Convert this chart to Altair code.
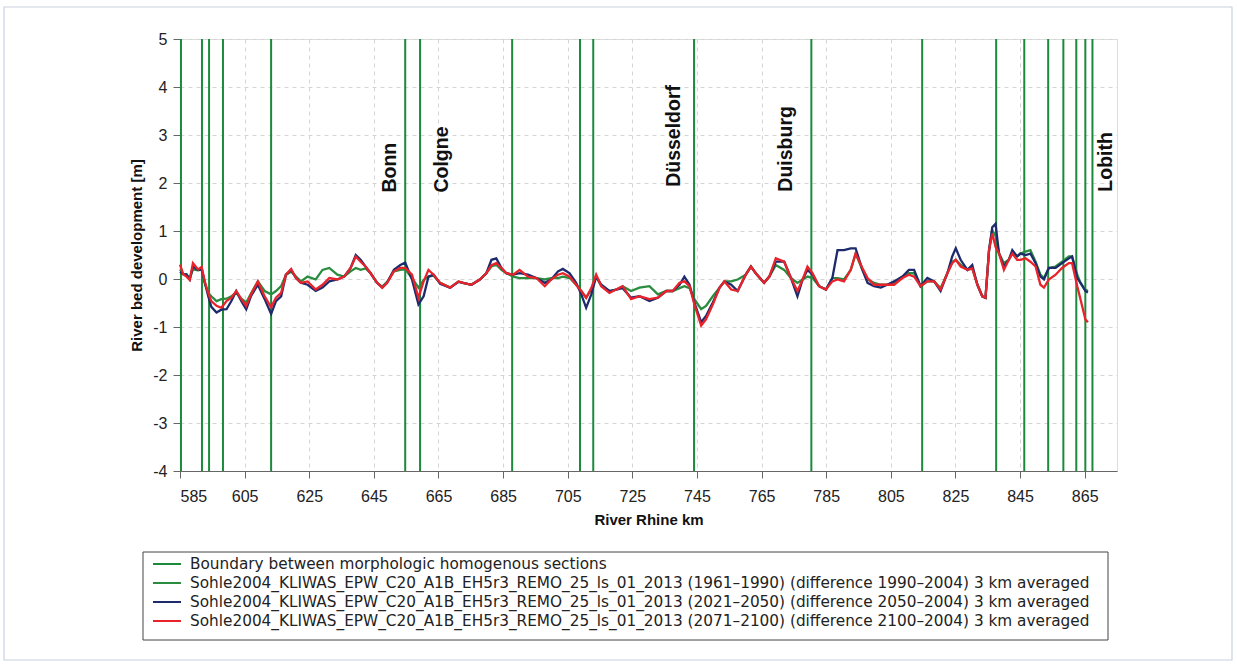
import altair as alt
import pandas as pd

# ---------------- data ----------------
km = [585.0, 586.0, 587.0, 588.0, 589.0, 590.6, 591.7, 592.7, 593.7, 594.7, 596.3, 597.8, 599.4,
      600.9, 602.4, 604.0, 605.5, 607.0, 609.1, 611.2, 613.2, 614.7, 616.3, 617.8, 619.4, 620.9,
      622.4, 624.5, 627.0, 629.1, 631.2, 633.7, 635.8, 637.8, 639.4, 640.9, 642.4, 644.0, 646.0,
      647.6, 649.1, 651.2, 653.2, 654.7, 656.8, 658.8, 660.4, 661.9, 663.5, 665.5, 668.6, 671.2,
      672.6, 675.2, 677.8, 679.8, 681.4, 682.9, 684.5, 686.0, 688.1, 690.1, 692.7, 695.3, 697.9,
      699.9, 702.0, 703.5, 705.6, 707.6, 709.2, 710.7, 712.3, 713.8, 715.4, 717.9, 720.0, 722.0,
      724.6, 727.2, 730.3, 732.9, 735.5, 737.5, 739.6, 741.1, 742.7, 744.2, 746.3, 747.8, 749.9,
      752.0, 753.5, 755.6, 757.6, 760.1, 761.7, 763.2, 765.8, 767.4, 769.4, 772.0, 774.1, 776.1,
      777.7, 779.2, 780.8, 782.8, 784.9, 786.9, 788.5, 790.5, 792.6, 794.1, 796.2, 797.8, 799.8,
      801.9, 803.9, 806.0, 808.6, 810.6, 812.2, 814.2, 816.3, 818.4, 820.4, 822.5, 824.0, 825.1,
      826.6, 828.7, 830.2, 831.8, 833.3, 834.3, 835.4, 836.4, 837.4, 838.5, 840.0, 841.5, 842.6,
      844.1, 845.1, 846.7, 848.2, 849.8, 851.3, 852.4, 853.9, 856.0, 858.0, 860.1, 861.1, 862.7,
      863.7, 865.2, 866.0]

green = [0.20, 0.10, 0.10, 0.00, 0.20, 0.18, 0.20, -0.10, -0.29, -0.36, -0.46, -0.42, -0.41,
         -0.36, -0.29, -0.41, -0.49, -0.30, -0.05, -0.25, -0.32, -0.25, -0.15, 0.09, 0.15, 0.05,
         -0.05, 0.05, -0.01, 0.19, 0.23, 0.09, 0.05, 0.16, 0.23, 0.19, 0.22, 0.12, -0.08,
         -0.16, -0.06, 0.16, 0.19, 0.20, 0.02, -0.18, -0.02, 0.05, 0.07, -0.08, -0.18, -0.05,
         -0.08, -0.12, -0.01, 0.12, 0.26, 0.30, 0.19, 0.12, 0.05, 0.02, 0.02, 0.02, -0.01,
         0.02, 0.02, 0.05, 0.02, -0.12, -0.25, -0.39, -0.22, 0.05, -0.15, -0.25, -0.22, -0.15,
         -0.25, -0.18, -0.15, -0.32, -0.25, -0.25, -0.19, -0.15, -0.19, -0.42, -0.63, -0.56, -0.36,
         -0.18, -0.05, -0.05, -0.01, 0.09, 0.26, 0.12, -0.08, 0.05, 0.29, 0.19, 0.02, -0.08,
         -0.01, 0.05, 0.02, -0.15, -0.22, 0.02, 0.02, -0.01, 0.19, 0.53, 0.19, -0.01, -0.08,
         -0.12, -0.12, -0.08, 0.05, 0.12, 0.12, -0.15, -0.05, -0.05, -0.19, 0.12, 0.36, 0.40,
         0.30, 0.19, 0.22, -0.12, -0.36, -0.39, 0.60, 1.02, 0.90, 0.53, 0.33, 0.40, 0.53,
         0.47, 0.53, 0.57, 0.60, 0.36, 0.09, 0.02, 0.23, 0.26, 0.36, 0.47, 0.47, 0.09,
         -0.08, -0.22, -0.25]

navy = [0.15, 0.10, 0.09, -0.01, 0.26, 0.19, 0.22, -0.08, -0.35, -0.58, -0.70, -0.64, -0.63,
        -0.46, -0.25, -0.46, -0.63, -0.35, -0.12, -0.42, -0.73, -0.46, -0.36, 0.09, 0.19, 0.02,
        -0.08, -0.12, -0.25, -0.18, -0.05, -0.01, 0.05, 0.23, 0.50, 0.40, 0.26, 0.12, -0.08,
        -0.18, -0.08, 0.19, 0.29, 0.34, -0.01, -0.53, -0.36, 0.05, 0.09, -0.10, -0.18, -0.06,
        -0.08, -0.12, -0.01, 0.12, 0.40, 0.43, 0.23, 0.12, 0.09, 0.12, 0.09, 0.02, -0.08,
        -0.01, 0.16, 0.21, 0.12, -0.08, -0.32, -0.60, -0.32, 0.05, -0.12, -0.25, -0.22, -0.19,
        -0.39, -0.36, -0.46, -0.39, -0.25, -0.25, -0.12, 0.05, -0.12, -0.49, -0.90, -0.77, -0.49,
        -0.18, -0.05, -0.12, -0.25, 0.09, 0.26, 0.12, -0.08, 0.05, 0.36, 0.36, 0.02, -0.36,
        -0.01, 0.19, 0.09, -0.15, -0.22, 0.02, 0.60, 0.60, 0.64, 0.64, 0.19, -0.08, -0.15,
        -0.18, -0.12, -0.05, 0.05, 0.19, 0.19, -0.15, 0.02, -0.05, -0.25, 0.12, 0.47, 0.64,
        0.40, 0.19, 0.29, -0.12, -0.36, -0.39, 0.60, 1.08, 1.15, 0.53, 0.26, 0.40, 0.60,
        0.47, 0.53, 0.50, 0.53, 0.33, 0.05, -0.01, 0.23, 0.23, 0.33, 0.43, 0.47, 0.02,
        -0.08, -0.25, -0.28]

red = [0.30, 0.10, 0.05, -0.02, 0.33, 0.20, 0.25, -0.06, -0.29, -0.46, -0.56, -0.60, -0.46,
       -0.39, -0.25, -0.42, -0.56, -0.32, -0.05, -0.36, -0.59, -0.39, -0.29, 0.09, 0.21, 0.02,
       -0.08, -0.05, -0.22, -0.12, 0.02, -0.01, 0.05, 0.23, 0.47, 0.36, 0.26, 0.12, -0.08,
       -0.18, -0.08, 0.16, 0.23, 0.23, 0.09, -0.39, -0.05, 0.19, 0.09, -0.08, -0.18, -0.05,
       -0.08, -0.12, -0.01, 0.12, 0.29, 0.33, 0.23, 0.12, 0.09, 0.19, 0.05, 0.02, -0.15,
       -0.01, 0.09, 0.12, 0.05, -0.12, -0.25, -0.39, -0.19, 0.09, -0.15, -0.29, -0.22, -0.15,
       -0.42, -0.36, -0.42, -0.39, -0.25, -0.25, -0.08, -0.05, -0.15, -0.53, -0.97, -0.84, -0.53,
       -0.18, -0.05, -0.22, -0.25, 0.09, 0.26, 0.12, -0.08, 0.05, 0.43, 0.36, 0.02, -0.25,
       -0.01, 0.26, 0.12, -0.15, -0.22, -0.05, -0.01, -0.05, 0.19, 0.53, 0.23, 0.02, -0.12,
       -0.12, -0.12, -0.12, 0.02, 0.09, 0.05, -0.15, -0.05, -0.05, -0.22, 0.12, 0.33, 0.40,
       0.26, 0.19, 0.22, -0.12, -0.36, -0.39, 0.60, 0.95, 0.67, 0.53, 0.19, 0.40, 0.53,
       0.40, 0.40, 0.43, 0.36, 0.26, -0.12, -0.18, -0.01, 0.09, 0.23, 0.33, 0.33, -0.15,
       -0.42, -0.84, -0.90]

boundaries = [585.3, 591.8, 594.0, 598.3, 613.2, 654.7, 659.3, 687.8, 708.8, 712.9, 744.1,
              780.4, 814.7, 837.6, 846.3, 853.7, 858.4, 862.4, 865.2, 867.4]

cities = ["Bonn", "Colgne", "Düsseldorf", "Duisburg", "Lobith"]
city_km = [650.0, 666.0, 738.0, 772.6, 871.6]
city_y = [1.80, 1.80, 1.92, 1.82, 1.82]

x_ticks = list(range(585, 866, 20))
y_ticks = list(range(-4, 6))

LB = "Boundary between morphologic homogenous sections"
L1 = "Sohle2004_KLIWAS_EPW_C20_A1B_EH5r3_REMO_25_ls_01_2013 (1961–1990) (difference 1990–2004) 3 km averaged"
L2 = "Sohle2004_KLIWAS_EPW_C20_A1B_EH5r3_REMO_25_ls_01_2013 (2021–2050) (difference 2050–2004) 3 km averaged"
L3 = "Sohle2004_KLIWAS_EPW_C20_A1B_EH5r3_REMO_25_ls_01_2013 (2071–2100) (difference 2100–2004) 3 km averaged"
labels = [LB, L1, L2, L3]
colors = ["#1c8a3c", "#2a8c3e", "#1d2a6c", "#e8232b"]

FONT = "Liberation Sans"
LFONT = "DejaVu Sans"

# ---------------- frames ----------------
df_g = pd.DataFrame({"km": km, "v": green, "series": L1})
df_n = pd.DataFrame({"km": km, "v": navy, "series": L2})
df_r = pd.DataFrame({"km": km, "v": red, "series": L3})
df_b = pd.DataFrame({"km": boundaries, "series": LB})
df_c = pd.DataFrame({"km": city_km, "y": city_y, "name": cities})
df_one = pd.DataFrame({"a": [0]})

xs = alt.Scale(domain=[585, 875], nice=False, zero=False)
ys = alt.Scale(domain=[-4, 5], nice=False, zero=False)
cs = alt.Scale(domain=labels, range=colors)

x_axis = alt.Axis(values=x_ticks, title="River Rhine km", titleFontSize=15, titleFontWeight="bold",
                  labelFontSize=16, tickSize=7, labelPadding=10, titlePadding=8,
                  grid=True, gridDash=[4, 4], gridColor="#d4d4d4", domainColor="#666666",
                  tickColor="#666666", labelColor="#222222", titleColor="#111111", labelFont=FONT,
                  titleFont=FONT)
y_axis = alt.Axis(values=y_ticks, title="River bed development [m]", titleFontSize=15,
                  titleFontWeight="bold", labelFontSize=16, tickSize=7, labelPadding=6,
                  titlePadding=8, grid=True, gridDash=[4, 4], gridColor="#d4d4d4",
                  domainColor="#666666", tickColor="#666666", labelColor="#222222",
                  titleColor="#111111", labelFont=FONT, titleFont=FONT,
                  labelExpr="'' + datum.value")

outer = alt.Chart(df_one).mark_rect(fill=None, stroke="#c9d2de", strokeWidth=1.2).encode(
    x=alt.value(-176), x2=alt.value(1052), y=alt.value(-32), y2=alt.value(621))

rules = alt.Chart(df_b).mark_rule(strokeWidth=2).encode(
    x=alt.X("km:Q", scale=xs, axis=x_axis),
    color=alt.Color("series:N", scale=cs, legend=None),
)

def line(df):
    return alt.Chart(df).mark_line(strokeWidth=2.3, interpolate="linear").encode(
        x=alt.X("km:Q", scale=xs, axis=x_axis),
        y=alt.Y("v:Q", scale=ys, axis=y_axis),
        color=alt.Color("series:N", scale=cs, legend=None),
    )

texts = alt.Chart(df_c).mark_text(angle=270, align="left", baseline="middle", font=FONT,
                                  fontSize=19.5, fontWeight="bold", color="#111111").encode(
    x=alt.X("km:Q", scale=xs),
    y=alt.Y("y:Q", scale=ys),
    text="name:N",
)

# ---------------- legend (drawn as decoration) ----------------
legend_layers = [
    alt.Chart(df_one).mark_rect(fill="white", stroke="#444444", strokeWidth=1).encode(
        x=alt.value(-37), x2=alt.value(928), y=alt.value(513), y2=alt.value(601))
]
for i, (lab, col) in enumerate(zip(labels, colors)):
    yy = 525 + 19 * i
    legend_layers.append(
        alt.Chart(df_one).mark_rule(color=col, strokeWidth=2).encode(
            x=alt.value(-27), x2=alt.value(1), y=alt.value(yy)))
    legend_layers.append(
        alt.Chart(df_one).mark_text(text=lab, align="left", baseline="middle", font=LFONT,
                                    fontSize=15.3, color="#222222").encode(
            x=alt.value(10), y=alt.value(yy)))

chart = alt.layer(outer, rules, line(df_g), line(df_n), line(df_r), texts, *legend_layers).properties(
    width=937, height=432,
    autosize=alt.AutoSizeParams(type="none"),
    padding={"left": 180, "top": 39, "right": 120, "bottom": 196},
).configure_view(stroke="#777777", strokeWidth=1.5).configure(background="white")

chart.save("out.html", embed_options={"renderer": "svg", "actions": False})
